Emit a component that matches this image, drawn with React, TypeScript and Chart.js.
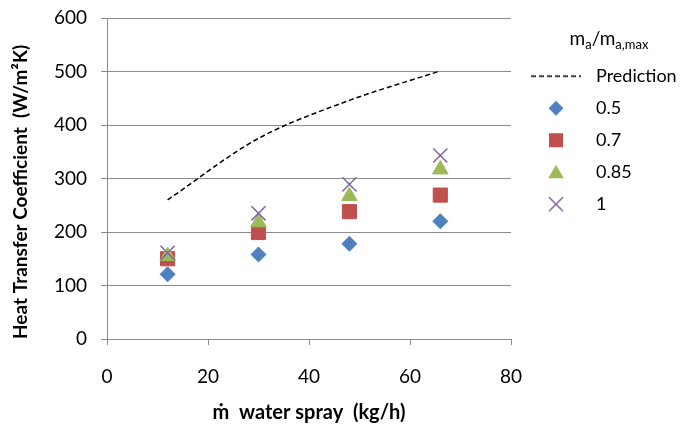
import React, { useEffect, useRef } from 'react';
import { Chart, registerables } from 'chart.js';

Chart.register(...registerables);

// ---- data ----
const xFlow = [12, 30, 48, 66];
const predictionHTC = [260, 375, 446, 501];
const htc05 = [121, 158, 178, 220];
const htc07 = [150, 199, 238, 269];
const htc085 = [155, 218, 267, 317];
const htc1 = [161, 235, 289, 343];
const seriesLabels = ['Prediction', '0.5', '0.7', '0.85', '1'];
const seriesColors = ['#000000', '#4F81BD', '#C0504D', '#9BBB59', '#8064A2'];
const yTitle = 'Heat Transfer Coefficient  (W/m\u00B2K)';
const xTitle = '\u1E41  water spray  (kg/h)';

const FONT = 'Lato, "Open Sans", sans-serif';
const GRID = '#8c8c8c';

function makeMarker(kind: string, color: string): HTMLCanvasElement {
  const c = document.createElement('canvas');
  const w = kind === 'line' ? 50 : 20;
  c.width = w;
  c.height = 20;
  const g = c.getContext('2d') as CanvasRenderingContext2D;
  g.fillStyle = color;
  g.strokeStyle = color;
  const cx = w / 2;
  const cy = 10;
  if (kind === 'line') {
    g.setLineDash([5, 3]);
    g.lineWidth = 1.5;
    g.beginPath();
    g.moveTo(0, cy);
    g.lineTo(w, cy);
    g.stroke();
  } else if (kind === 'diamond') {
    g.beginPath();
    g.moveTo(cx - 7.5, cy);
    g.lineTo(cx, cy - 7.5);
    g.lineTo(cx + 7.5, cy);
    g.lineTo(cx, cy + 7.5);
    g.closePath();
    g.fill();
  } else if (kind === 'square') {
    g.fillRect(cx - 7, cy - 7, 14, 14);
  } else if (kind === 'triangle') {
    g.beginPath();
    g.moveTo(cx, cy - 7.5);
    g.lineTo(cx + 7.8, cy + 6);
    g.lineTo(cx - 7.8, cy + 6);
    g.closePath();
    g.fill();
  } else if (kind === 'cross') {
    g.lineWidth = 1.5;
    g.beginPath();
    g.moveTo(cx - 7, cy - 7);
    g.lineTo(cx + 7, cy + 7);
    g.moveTo(cx + 7, cy - 7);
    g.lineTo(cx - 7, cy + 7);
    g.stroke();
  }
  return c;
}

const pts = (ys: number[]) => xFlow.map((x, i) => ({ x, y: ys[i] }));

export default function App() {
  const ref = useRef<HTMLCanvasElement | null>(null);

  useEffect(() => {
    if (!ref.current) return;
    const kinds = ['line', 'diamond', 'square', 'triangle', 'cross'];
    const legendImgs = kinds.map((k, i) => makeMarker(k, seriesColors[i]));

    const legendWidthPlugin = {
      id: 'legendWidth',
      beforeLayout(chart: any) {
        const lg = chart.legend;
        if (lg && !lg._fixedW) {
          const orig = lg.fit.bind(lg);
          lg.fit = function () {
            orig();
            this.width = 175;
          };
          lg._fixedW = true;
        }
      },
    };

    const legendTitlePlugin = {
      id: 'legendTitle',
      afterDraw(chart: any) {
        const lg = chart.legend;
        if (!lg) return;
        const ctx = chart.ctx as CanvasRenderingContext2D;
        const big = `19px ${FONT}`;
        const small = `13px ${FONT}`;
        const parts: [string, string, number][] = [
          ['m', big, 0],
          ['a', small, 4],
          ['/m', big, 0],
          ['a,max', small, 4],
        ];
        ctx.save();
        ctx.fillStyle = '#000';
        ctx.textBaseline = 'alphabetic';
        ctx.textAlign = 'left';
        let total = 0;
        for (const p of parts) {
          ctx.font = p[1];
          total += ctx.measureText(p[0]).width;
        }
        let x = lg.left + 98 - total / 2;
        const base = 45;
        for (const p of parts) {
          ctx.font = p[1];
          ctx.fillText(p[0], x, base + p[2]);
          x += ctx.measureText(p[0]).width;
        }
        ctx.restore();
      },
    };

    const chart = new Chart(ref.current, {
      type: 'scatter',
      data: {
        datasets: [
          {
            label: seriesLabels[0],
            data: pts(predictionHTC),
            showLine: true,
            borderColor: seriesColors[0],
            borderWidth: 1.5,
            borderDash: [5, 3],
            pointRadius: 0,
            tension: 0.33,
            fill: false,
            order: 5,
          },
          {
            label: seriesLabels[1],
            data: pts(htc05),
            pointStyle: 'rectRot',
            pointRadius: 7.5,
            backgroundColor: seriesColors[1],
            borderColor: seriesColors[1],
            borderWidth: 1,
            order: 4,
          },
          {
            label: seriesLabels[2],
            data: pts(htc07),
            pointStyle: 'rect',
            pointRadius: 10,
            backgroundColor: seriesColors[2],
            borderColor: seriesColors[2],
            borderWidth: 1,
            order: 3,
          },
          {
            label: seriesLabels[3],
            data: pts(htc085),
            pointStyle: 'triangle',
            pointRadius: 9,
            backgroundColor: seriesColors[3],
            borderColor: seriesColors[3],
            borderWidth: 1,
            order: 2,
          },
          {
            label: seriesLabels[4],
            data: pts(htc1),
            pointStyle: 'crossRot',
            pointRadius: 10,
            backgroundColor: seriesColors[4],
            borderColor: seriesColors[4],
            borderWidth: 1.5,
            order: 1,
          },
        ],
      } as any,
      options: {
        animation: false,
        responsive: false,
        maintainAspectRatio: false,
        layout: { padding: { top: 18, left: 0, right: 0, bottom: 0 } },
        plugins: {
          tooltip: { enabled: false },
          legend: {
            display: true,
            position: 'right',
            align: 'start',
            title: {
              display: true,
              text: ' ',
              font: { family: FONT, size: 16 },
              padding: { top: 8, bottom: 8 },
            },
            labels: {
              usePointStyle: true,
              pointStyleWidth: 62,
              padding: 14,
              color: '#000',
              font: { family: FONT, size: 18 },
              generateLabels: (ch: any) =>
                ch.data.datasets.map((ds: any, i: number) => ({
                  text: ds.label,
                  datasetIndex: i,
                  pointStyle: legendImgs[i],
                  fillStyle: 'rgba(0,0,0,0)',
                  strokeStyle: 'rgba(0,0,0,0)',
                  lineWidth: 0,
                  fontColor: '#000',
                  hidden: !ch.isDatasetVisible(i),
                })),
            },
          },
        },
        scales: {
          x: {
            type: 'linear',
            min: 0,
            max: 80,
            ticks: {
              stepSize: 20,
              color: '#000',
              padding: 20,
              font: { family: FONT, size: 19 },
            },
            grid: {
              display: true,
              drawOnChartArea: false,
              drawTicks: true,
              tickLength: 6,
              color: GRID,
            },
            border: { display: true, color: GRID, width: 1 },
            title: {
              display: true,
              text: xTitle,
              color: '#000',
              font: { family: FONT, size: 20, weight: 'bold' },
              padding: { top: 5, bottom: 5 },
            },
            afterFit: (s: any) => {
              s.height = 91;
            },
          },
          y: {
            type: 'linear',
            min: 0,
            max: 600,
            ticks: {
              stepSize: 100,
              color: '#000',
              padding: 14,
              font: { family: FONT, size: 19 },
            },
            grid: {
              display: true,
              drawTicks: true,
              tickLength: 6,
              color: GRID,
              lineWidth: 1,
            },
            border: { display: true, color: GRID, width: 1 },
            title: {
              display: true,
              text: yTitle,
              align: 'start',
              color: '#000',
              font: { family: FONT, size: 19, weight: 'bold' },
              padding: { top: 9, bottom: 9 },
            },
            afterFit: (s: any) => {
              s.width = 107;
              s.paddingTop = 0;
              s.paddingBottom = 0;
            },
          },
        },
      } as any,
      plugins: [legendWidthPlugin, legendTitlePlugin],
    });

    return () => chart.destroy();
  }, []);

  return (
    <div style={{ position: 'absolute', left: 0, top: 0, width: 686, height: 430, background: '#fff' }}>
      <canvas ref={ref} width={686} height={430} style={{ width: 686, height: 430, display: 'block' }} />
    </div>
  );
}
